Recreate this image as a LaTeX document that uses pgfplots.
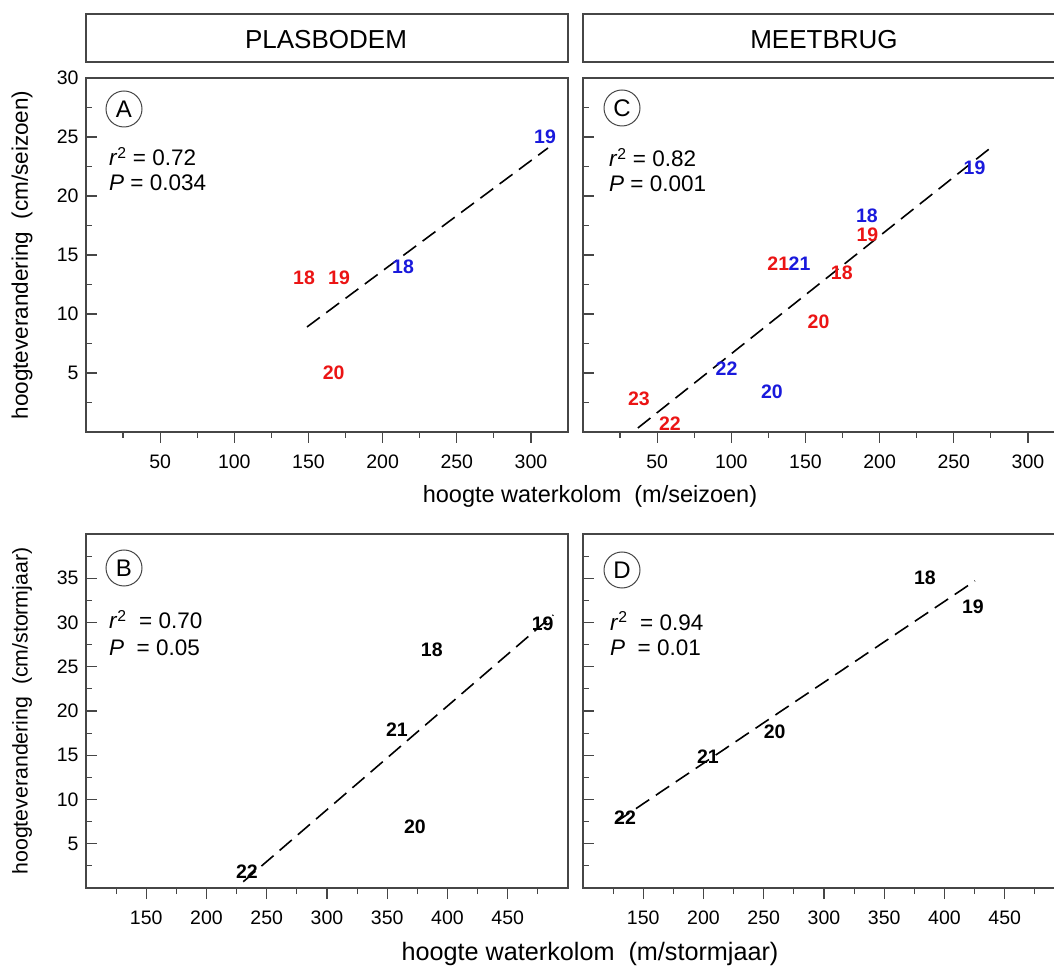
\documentclass[border=0pt]{standalone}
\usepackage{pgfplots}
\pgfplotsset{compat=1.18}
\usepackage{fontspec}
\setmainfont{Liberation Sans}
\definecolor{myred}{RGB}{235,20,20}
\definecolor{myblue}{RGB}{25,25,220}
\definecolor{axgray}{RGB}{70,70,70}
\pgfplotsset{
  panel/.style={
    scale only axis, width=482pt, height=354pt, anchor=south west,
    axis line style={axgray, line width=1.2pt},
    every tick/.style={axgray, line width=1.2pt},
    xtick align=outside, ytick align=inside,
    xtick pos=left, ytick pos=left,
    major tick length=11pt, minor tick length=6pt,
    tick label style={font=\fontsize{19.5}{23}\selectfont},
    x tick label style={yshift=-8pt},
    y tick label style={xshift=-4pt},
    /pgf/number format/assume math mode=true,
    clip=false,
  },
  lab/.style={only marks, mark=none, nodes near coords, nodes near coords align=center,
    point meta=explicit symbolic,
    every node near coord/.append style={text=#1, font=\bfseries\fontsize{19.5}{22}\selectfont, anchor=center, inner sep=0pt}},
  fit/.style={black, line width=1.6pt, dash pattern=on 16pt off 8pt},
}
\begin{document}
\begin{tikzpicture}[font=\fontsize{22}{26}\selectfont]
\useasboundingbox (0pt,0pt) rectangle (1054pt,967pt);
% headers
\draw[axgray, line width=1.2pt] (86pt,905pt) rectangle (568pt,953pt);
\draw[axgray, line width=1.2pt] (583pt,905pt) rectangle (1065pt,953pt);
\node[font=\fontsize{26}{30}\selectfont] at (326pt,927pt) {PLASBODEM};
\node[font=\fontsize{26}{30}\selectfont] at (824pt,927pt) {MEETBRUG};

% Panel A
\begin{axis}[panel, at={(86pt,535pt)}, xmin=0, xmax=325, ymin=0, ymax=30,
  xtick={50,100,...,300}, minor xtick={25,75,...,275},
  ytick={5,10,...,30}, minor ytick={2.5,7.5,...,27.5}]
\addplot[fit] coordinates {(149,8.9) (311.5,24.07)};
\addplot[lab=myred] table[meta=l] {
x y l
147 13.05 18
170.6 13.05 19
167 5.0 20
};
\addplot[lab=myblue] table[meta=l] {
x y l
213.8 14.0 18
309.5 25.0 19
};
\end{axis}

% Panel C
\begin{axis}[panel, at={(583pt,535pt)}, xmin=0, xmax=325, ymin=0, ymax=30,
  xtick={50,100,...,300}, minor xtick={25,75,...,275},
  ytick={5,10,...,30}, minor ytick={2.5,7.5,...,27.5}, yticklabels={}]
\addplot[fit] coordinates {(37,0.34) (276,24.2)};
\addplot[lab=myred] table[meta=l] {
x y l
191.8 16.75 19
131.7 14.3 21
174.5 13.5 18
158.8 9.3 20
37.7 2.8 23
58.6 0.68 22
};
\addplot[lab=myblue] table[meta=l] {
x y l
264 22.4 19
191.4 18.35 18
146 14.3 21
96.8 5.4 22
127.4 3.4 20
};
\end{axis}

% Panel B
\begin{axis}[panel, at={(86pt,79pt)}, xmin=100, xmax=500, ymin=0, ymax=40,
  xtick={150,200,...,450}, minor xtick={125,175,...,475},
  ytick={5,10,...,35}, minor ytick={2.5,7.5,...,37.5}]
\addplot[fit] coordinates {(230.5,0.71) (487.8,30.85)};
\addplot[lab=black] table[meta=l] {
x y l
479 29.9 19
387 26.9 18
358 17.85 21
373 6.9 20
233.6 1.8 22
};
\end{axis}

% Panel D
\begin{axis}[panel, at={(583pt,79pt)}, xmin=100, xmax=500, ymin=0, ymax=40,
  xtick={150,200,...,450}, minor xtick={125,175,...,475},
  ytick={5,10,...,35}, minor ytick={2.5,7.5,...,37.5}, yticklabels={}]
\addplot[fit] coordinates {(127.4,7.46) (425.3,34.7)};
\addplot[lab=black] table[meta=l] {
x y l
383.8 35.0 18
423.6 31.75 19
259 17.6 20
203.7 14.8 21
134.9 8.0 22
};
\end{axis}

% circle labels
\foreach \cx/\cy/\t in {124/858/A, 622/859/C, 124/399/B, 622/397/D}{
  \draw[axgray, line width=1pt] (\cx pt,\cy pt) circle (18pt);
  \node[font=\fontsize{24}{28}\selectfont] at (\cx pt,\cy pt) {\t};
}
% statistics
\begin{scope}[every node/.style={anchor=base west, inner sep=0pt, font=\fontsize{22.5}{26}\selectfont}]
\node at (109pt,801pt) {\textit{r}\textsuperscript{2} = 0.72};
\node at (109pt,776pt) {\textit{P} = 0.034};
\node at (609pt,800pt) {\textit{r}\textsuperscript{2} = 0.82};
\node at (609pt,775pt) {\textit{P} = 0.001};
\node at (109pt,338pt) {\textit{r}\textsuperscript{2}\ \ = 0.70};
\node at (109pt,312pt) {\textit{P}\ \ = 0.05};
\node at (610pt,337pt) {\textit{r}\textsuperscript{2}\ \ = 0.94};
\node at (610pt,312pt) {\textit{P}\ \ = 0.01};
\end{scope}
% axis labels
\node[anchor=base, font=\fontsize{23.5}{28}\selectfont] at (590pt,464pt) {hoogte waterkolom\ \ (m/seizoen)};
\node[anchor=base, font=\fontsize{25.2}{29}\selectfont] at (590pt,7pt) {hoogte waterkolom\ \ (m/stormjaar)};
\node[rotate=90, font=\fontsize{22.5}{27}\selectfont] at (22pt,712pt) {hoogteverandering\ \ (cm/seizoen)};
\node[rotate=90, font=\fontsize{21.3}{25}\selectfont] at (22pt,709pt) {} ;
\node[rotate=90, font=\fontsize{21.3}{25}\selectfont] at (22pt,256pt) {hoogteverandering\ \ (cm/stormjaar)};
\end{tikzpicture}
\end{document}
